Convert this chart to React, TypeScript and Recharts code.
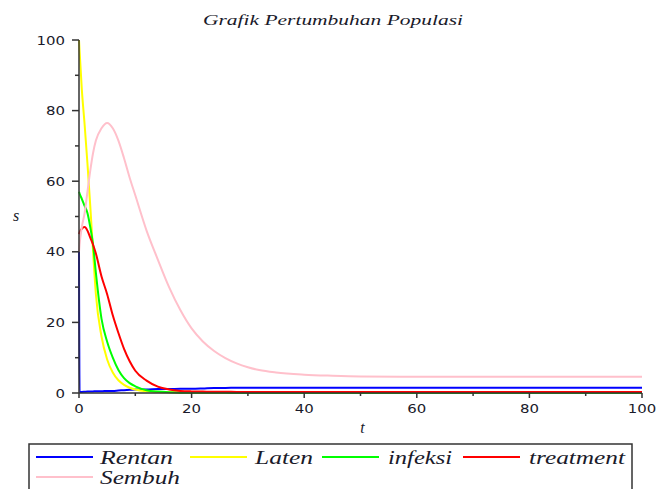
import React from "react";
import { LineChart, Line, XAxis, YAxis, Label } from "recharts";

// time points and the five compartments
const tValues = [0, 0.1, 0.5, 1, 1.5, 2, 2.5, 3, 4, 5, 6, 7, 8, 9, 10, 12, 14, 16, 18, 20, 22, 24, 26, 28, 30, 32, 35, 40, 45, 50, 60, 70, 80, 90, 100];
const rentan = [40, 0.3, 0.3, 0.35, 0.4, 0.4, 0.45, 0.5, 0.5, 0.6, 0.6, 0.7, 0.8, 0.9, 1.0, 1.0, 1.1, 1.1, 1.2, 1.2, 1.3, 1.45, 1.45, 1.5, 1.5, 1.5, 1.5, 1.5, 1.5, 1.5, 1.5, 1.5, 1.5, 1.5, 1.5];
const laten = [100, 97, 86, 76, 65, 53, 40, 28, 16, 9.5, 5.8, 3.6, 2.3, 1.5, 1.0, 0.5, 0.3, 0.2, 0.15, 0.1, 0.08, 0.07, 0.06, 0.05, 0.05, 0.05, 0.05, 0, 0, 0, 0, 0, 0, 0, 0];
const infeksi = [57, 56.5, 55, 53, 51, 47, 42, 34, 21, 14.5, 10, 6.5, 4.2, 2.8, 1.9, 0.8, 0.4, 0.2, 0.1, 0.08, 0.06, 0.05, 0.04, 0.03, 0.02, 0.02, 0.01, 0, 0, 0, 0, 0, 0, 0, 0];
const treatment = [45, 45.5, 46.5, 47, 46, 44, 42, 39.5, 33, 28, 22, 17, 12.5, 9, 6.3, 3.5, 1.8, 1.0, 0.6, 0.45, 0.4, 0.35, 0.35, 0.3, 0.3, 0.3, 0.3, 0.3, 0.3, 0.3, 0.3, 0.3, 0.3, 0.3, 0.3];
const sembuh = [40, 42, 47, 51, 57, 63, 68, 71.5, 75, 76.5, 75, 71.5, 66.5, 61, 56, 46, 37.8, 30, 23.5, 18.3, 14.6, 11.9, 9.9, 8.4, 7.3, 6.5, 5.8, 5.2, 4.9, 4.7, 4.6, 4.6, 4.6, 4.6, 4.6];

const seriesNames = ["Rentan", "Laten", "infeksi", "treatment", "Sembuh"];
const seriesColors = ["#0000ff", "#ffff00", "#00ff00", "#ff0000", "#ffc0cb"];
const seriesValues = [rentan, laten, infeksi, treatment, sembuh];

const xTicks = [0, 10, 20, 30, 40, 50, 60, 70, 80, 90, 100];
const yTicks = [0, 10, 20, 30, 40, 50, 60, 70, 80, 90, 100];

const data = tValues.map((t, i) => {
  const row: Record<string, number> = { t };
  seriesNames.forEach((name, k) => {
    row[name] = seriesValues[k][i];
  });
  return row;
});

const axisColor = "#333";
const textColor = "#1a1a2a";

const XTick = (props: any) => {
  const { x, y, payload } = props;
  const major = payload.value % 20 === 0;
  const label = String(payload.value);
  return (
    <g>
      <line x1={x} x2={x} y1={y} y2={y + (major ? 5 : 3)} stroke={axisColor} strokeWidth={1.5} />
      {major && (
        <text
          x={x}
          y={y + 20}
          textAnchor="middle"
          fontFamily="DejaVu Sans"
          fontSize={12}
          fill={textColor}
          textLength={label.length * 9.5}
          lengthAdjust="spacingAndGlyphs"
        >
          {label}
        </text>
      )}
    </g>
  );
};

const YTick = (props: any) => {
  const { x, y, payload } = props;
  const major = payload.value % 20 === 0;
  const label = String(payload.value);
  return (
    <g>
      <line x1={x} x2={x - (major ? 7 : 4)} y1={y} y2={y} stroke={axisColor} strokeWidth={1.5} />
      {major && (
        <text
          x={x - 14}
          y={y + 4.5}
          textAnchor="end"
          fontFamily="DejaVu Sans"
          fontSize={12}
          fill={textColor}
          textLength={label.length * 9.5}
          lengthAdjust="spacingAndGlyphs"
        >
          {label}
        </text>
      )}
    </g>
  );
};

// legend entries: sample line start and text start
const legendRows = [
  { name: "Rentan", lx: 36, tx: 100, tw: 73, y: 457 },
  { name: "Laten", lx: 190, tx: 255, tw: 58, y: 457 },
  { name: "infeksi", lx: 322, tx: 388, tw: 64, y: 457 },
  { name: "treatment", lx: 463, tx: 529, tw: 96, y: 457 },
  { name: "Sembuh", lx: 36, tx: 100, tw: 80, y: 477 },
];

export default function App() {
  return (
    <div style={{ position: "absolute", left: 0, top: 0, width: 671, height: 489, background: "#fff", overflow: "hidden" }}>
      <LineChart
        width={671}
        height={489}
        data={data}
        margin={{ top: 40, right: 29, left: 0, bottom: 56 }}
        style={{ position: "absolute", left: 0, top: 0 }}
      >
        <XAxis
          dataKey="t"
          type="number"
          domain={[0, 100]}
          ticks={xTicks}
          height={40}
          tickSize={0}
          tickMargin={0}
          tickLine={false}
          tick={<XTick />}
          axisLine={{ stroke: axisColor, strokeWidth: 1.5 }}
        >
          <Label
            content={(p: any) => (
              <text
                x={p.viewBox.x + p.viewBox.width / 2 + 2}
                y={p.viewBox.y + 40}
                textAnchor="middle"
                fontFamily="Liberation Serif"
                fontStyle="italic"
                fontSize={16}
                fill={textColor}
              >
                t
              </text>
            )}
          />
        </XAxis>
        <YAxis
          type="number"
          domain={[0, 100]}
          ticks={yTicks}
          width={79}
          tickSize={0}
          tickMargin={0}
          tickLine={false}
          tick={<YTick />}
          axisLine={{ stroke: axisColor, strokeWidth: 1.5 }}
        >
          <Label
            content={(p: any) => (
              <text
                x={p.viewBox.x + 16}
                y={p.viewBox.y + p.viewBox.height / 2 + 4}
                textAnchor="middle"
                fontFamily="Liberation Serif"
                fontStyle="italic"
                fontSize={16}
                fill={textColor}
              >
                s
              </text>
            )}
          />
        </YAxis>
        {seriesNames.map((name, k) => (
          <Line
            key={name}
            type="monotone"
            dataKey={name}
            stroke={seriesColors[k]}
            strokeWidth={2}
            dot={false}
            isAnimationActive={false}
          />
        ))}
      </LineChart>
      <svg
        width={671}
        height={489}
        style={{ position: "absolute", left: 0, top: 0, pointerEvents: "none" }}
      >
        <text
          x={333}
          y={24.5}
          textAnchor="middle"
          fontFamily="Liberation Serif"
          fontStyle="italic"
          fontSize={15}
          fill={textColor}
          textLength={260}
          lengthAdjust="spacingAndGlyphs"
        >
          Grafik Pertumbuhan Populasi
        </text>
        <rect x={29} y={444} width={603} height={70} fill="none" stroke={axisColor} strokeWidth={1.5} />
        {legendRows.map((r) => {
          const k = seriesNames.indexOf(r.name);
          return (
            <g key={r.name}>
              <line x1={r.lx} x2={r.lx + 57} y1={r.y} y2={r.y} stroke={seriesColors[k]} strokeWidth={2} />
              <text
                x={r.tx}
                y={r.y + 7}
                fontFamily="Liberation Serif"
                fontStyle="italic"
                fontSize={18}
                fill={textColor}
                textLength={r.tw}
                lengthAdjust="spacingAndGlyphs"
              >
                {r.name}
              </text>
            </g>
          );
        })}
      </svg>
    </div>
  );
}
